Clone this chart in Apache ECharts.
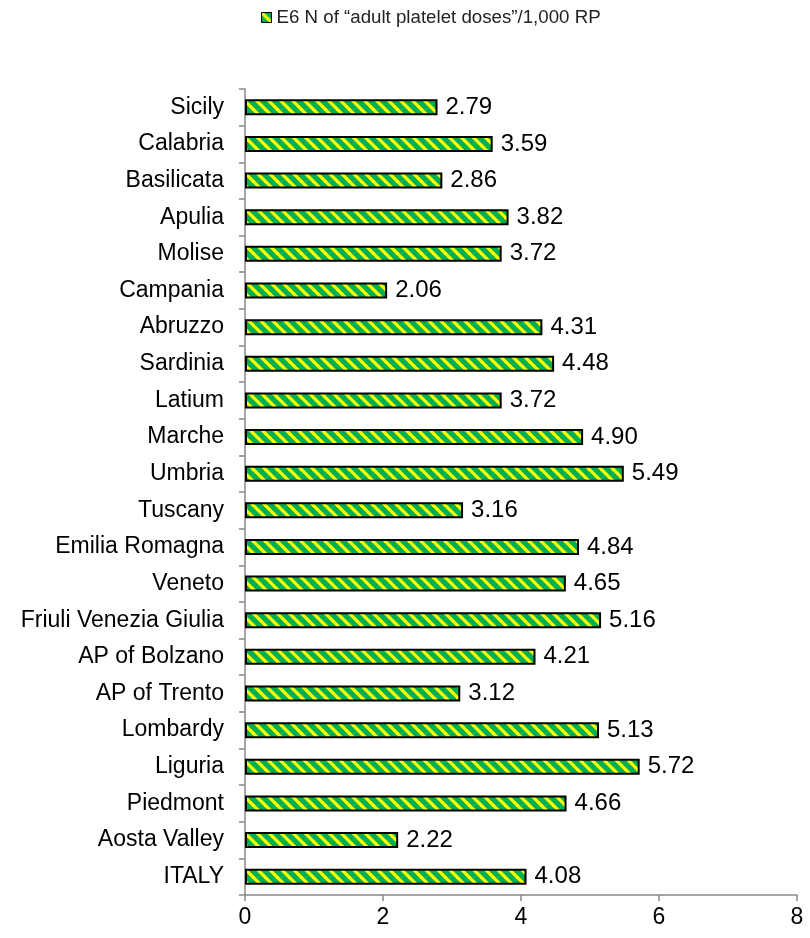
<!DOCTYPE html>
<html>
<head>
<meta charset="utf-8">
<script src="https://cdn.jsdelivr.net/npm/echarts@6/dist/echarts.min.js"></script>
<style>html,body{margin:0;padding:0;background:#fff}#c{width:810px;height:938px}</style>
</head>
<body>
<div id="c"></div>
<script>
var categories = ["Sicily","Calabria","Basilicata","Apulia","Molise","Campania","Abruzzo","Sardinia","Latium","Marche","Umbria","Tuscany","Emilia Romagna","Veneto","Friuli Venezia Giulia","AP of Bolzano","AP of Trento","Lombardy","Liguria","Piedmont","Aosta Valley","ITALY"];
var values = [2.79,3.59,2.86,3.82,3.72,2.06,4.31,4.48,3.72,4.90,5.49,3.16,4.84,4.65,5.16,4.21,3.12,5.13,5.72,4.66,2.22,4.08];
var seriesName = "E6 N of \u201cadult platelet doses\u201d/1,000 RP";
var xTicks = [0,2,4,6,8];

function makePattern(){
  var s = 12;
  var cv = document.createElement('canvas');
  cv.width = s; cv.height = s;
  var ctx = cv.getContext('2d');
  ctx.fillStyle = '#00B050';
  ctx.fillRect(0,0,s,s);
  ctx.strokeStyle = '#FFFF00';
  ctx.lineWidth = 3.2;
  for (var k=-1;k<=1;k++){
    ctx.beginPath();
    ctx.moveTo(k*s - 1, -1);
    ctx.lineTo(k*s + s + 1, s + 1);
    ctx.stroke();
  }
  return cv;
}
var pat = {image: makePattern(), repeat: 'repeat'};

var chart = echarts.init(document.getElementById('c'));
chart.setOption({
  animation: false,
  backgroundColor: '#fff',
  legend: {
    top: 3, left: 256,
    icon: 'rect', itemWidth: 10, itemHeight: 10, itemGap: 4,
    textStyle: {fontFamily: 'Liberation Sans, Arial', fontSize: 18.7, color: '#222'},
    data: [{name: seriesName, itemStyle: {color: pat, borderColor: '#000', borderWidth: 1}}]
  },
  grid: {left: 245, right: 13, top: 89, bottom: 43, containLabel: false},
  xAxis: {
    type: 'value', min: 0, max: 8, interval: 2,
    axisLine: {show: true, lineStyle: {color: '#888', width: 1.5}},
    axisTick: {show: true, length: 6, lineStyle: {color: '#888', width: 1.5}},
    splitLine: {show: false},
    axisLabel: {fontFamily: 'Liberation Sans, Arial', fontSize: 23, color: '#000', margin: 11,
      formatter: function(v){ return xTicks.indexOf(v) >= 0 ? String(v) : ''; }}
  },
  yAxis: {
    type: 'category', inverse: true, data: categories,
    axisLine: {show: true, lineStyle: {color: '#888', width: 1.5}},
    axisTick: {show: true, length: 6, lineStyle: {color: '#888', width: 1.5}},
    axisLabel: {fontFamily: 'Liberation Sans, Arial', fontSize: 23, color: '#000', margin: 21}
  },
  series: [{
    name: seriesName, type: 'bar', data: values,
    barWidth: 16,
    itemStyle: {color: pat, borderColor: '#000', borderWidth: 2},
    label: {show: true, position: 'right', distance: 8,
      fontFamily: 'Liberation Sans, Arial', fontSize: 24, color: '#000',
      formatter: function(p){ return p.value.toFixed(2); }}
  }]
});
</script>
</body>
</html>
